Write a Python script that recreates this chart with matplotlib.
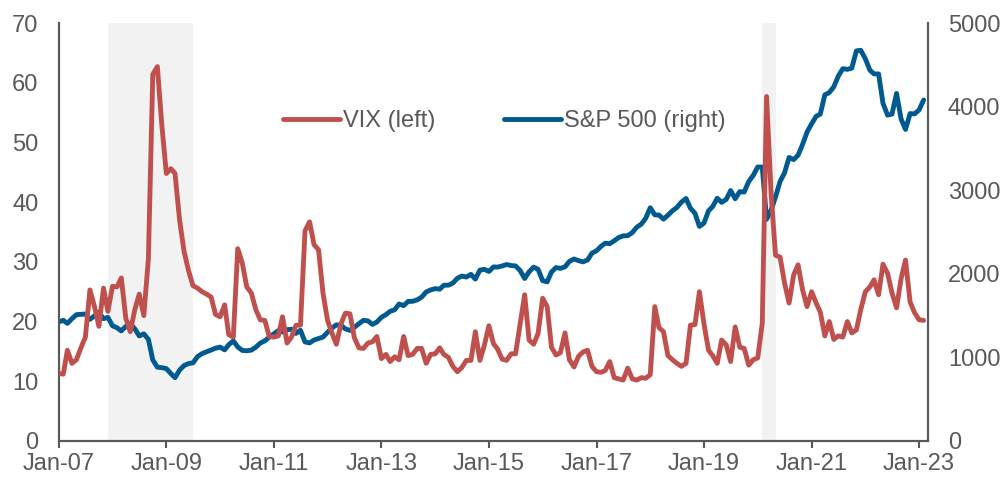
import numpy as np
import pandas as pd
import matplotlib
matplotlib.use("Agg")
import matplotlib.pyplot as plt
import matplotlib.dates as mdates

# monthly averages, Jan 2007 .. Feb 2023
vix = [
    11.3, 11.2, 15.2, 13.0, 13.6, 15.6, 17.4, 25.3, 22.5, 19.2, 25.6, 21.7,  # 2007
    25.9, 25.8, 27.3, 20.5, 18.3, 22.0, 24.6, 21.0, 30.5, 61.4, 62.7, 53.0,  # 2008
    44.8, 45.6, 44.8, 37.0, 31.8, 28.5, 26.0, 25.6, 25.0, 24.6, 24.1, 21.2,  # 2009
    20.8, 22.8, 17.8, 17.4, 32.2, 29.8, 25.8, 24.8, 22.0, 20.3, 20.2, 17.5,  # 2010
    17.4, 17.6, 20.8, 16.4, 17.4, 19.4, 19.4, 35.2, 36.7, 32.9, 32.0, 24.8,  # 2011
    20.2, 18.0, 16.2, 19.6, 21.4, 21.3, 17.3, 15.6, 15.5, 16.4, 16.6, 17.5,  # 2012
    13.8, 14.5, 13.3, 14.1, 13.6, 17.5, 14.3, 14.5, 15.5, 15.5, 13.0, 14.5,  # 2013
    14.6, 15.6, 14.5, 14.0, 12.5, 11.6, 12.3, 13.5, 13.5, 18.3, 13.5, 16.0,  # 2014
    19.3, 16.3, 15.4, 13.7, 13.5, 14.6, 14.6, 19.5, 24.5, 16.9, 16.2, 18.0,  # 2015
    23.9, 22.5, 15.7, 14.4, 14.8, 18.1, 13.6, 12.4, 14.2, 14.9, 15.2, 12.5,  # 2016
    11.6, 11.5, 11.8, 13.3, 10.6, 10.4, 10.2, 12.2, 10.4, 10.2, 10.6, 10.5,  # 2017
    11.1, 22.5, 19.0, 18.3, 14.3, 13.6, 13.0, 12.5, 13.0, 19.4, 19.5, 25.0,  # 2018
    19.6, 15.2, 14.3, 13.0, 16.9, 16.1, 13.3, 19.1, 15.7, 15.5, 12.7, 13.6,  # 2019
    13.9, 19.7, 57.7, 41.4, 31.1, 30.8, 26.5, 23.1, 27.8, 29.5, 25.3, 22.5,  # 2020
    25.0, 23.1, 21.6, 17.6, 20.0, 17.0, 17.6, 17.4, 20.0, 18.1, 18.6, 22.0,  # 2021
    25.0, 25.8, 27.0, 24.5, 29.6, 28.1, 24.8, 22.3, 27.2, 30.3, 23.3, 21.5,  # 2022
    20.3, 20.2,                                                              # 2023
]

spx = [
    1424, 1444, 1407, 1463, 1511, 1515, 1519, 1455, 1497, 1539, 1463, 1479,
    1379, 1354, 1317, 1371, 1403, 1341, 1257, 1281, 1217, 969, 883, 877,
    866, 806, 757, 848, 902, 926, 935, 1010, 1045, 1067, 1088, 1110,
    1123, 1090, 1152, 1197, 1125, 1083, 1079, 1087, 1122, 1171, 1198, 1242,
    1282, 1321, 1304, 1331, 1338, 1287, 1325, 1185, 1173, 1207, 1226, 1243,
    1300, 1352, 1389, 1386, 1341, 1323, 1359, 1403, 1443, 1437, 1394, 1423,
    1480, 1512, 1551, 1570, 1639, 1619, 1669, 1671, 1688, 1721, 1783, 1807,
    1822, 1817, 1863, 1864, 1889, 1947, 1973, 1961, 1993, 1937, 2044, 2054,
    2028, 2082, 2080, 2094, 2111, 2099, 2094, 2039, 1944, 2024, 2080, 2054,
    1918, 1904, 2022, 2075, 2065, 2083, 2149, 2177, 2158, 2143, 2165, 2247,
    2275, 2329, 2366, 2360, 2395, 2434, 2454, 2456, 2493, 2557, 2594, 2664,
    2790, 2705, 2703, 2654, 2701, 2754, 2794, 2858, 2901, 2785, 2723, 2567,
    2607, 2754, 2804, 2904, 2855, 2890, 2996, 2898, 2983, 2978, 3104, 3176,
    3278, 3277, 2652, 2762, 2920, 3105, 3207, 3392, 3366, 3419, 3549, 3695,
    3794, 3884, 3911, 4141, 4168, 4238, 4364, 4454, 4446, 4460, 4667, 4674,
    4573, 4436, 4392, 4391, 4040, 3898, 3911, 4158, 3851, 3727, 3917, 3913,
    3960, 4079,
]

months = pd.date_range("2007-01-01", periods=len(vix), freq="MS")
xticks = pd.date_range("2007-01-01", "2023-01-01", freq="24MS")

# recession periods (shaded)
recessions = [("2007-12-01", "2009-07-01"), ("2020-02-01", "2020-05-01")]

grey = "#595959"
red = "#C0504D"
blue = "#005A8F"

plt.rcParams['font.family'] = ['Liberation Sans', 'DejaVu Sans']
plt.rcParams['font.size'] = 17

fig = plt.figure(figsize=(10.02, 4.8), dpi=100)
ax = fig.add_axes([0.0586, 0.0813, 0.8673, 0.8707])
ax2 = ax.twinx()

# shading lives on the bottom axes so both lines sit above it
for start, end in recessions:
    ax2.axvspan(pd.Timestamp(start), pd.Timestamp(end), color="#F2F2F2", lw=0, zorder=0)

l2, = ax2.plot(months, spx, color=blue, lw=3.5, solid_joinstyle="round",
               solid_capstyle="round", label="S&P 500 (right)", zorder=3)
l1, = ax.plot(months, vix, color=red, lw=3.5, solid_joinstyle="round",
              solid_capstyle="round", label="VIX (left)", zorder=3)

ax.set_xlim(pd.Timestamp("2007-01-01"), pd.Timestamp("2023-03-01"))
ax.set_ylim(0, 70)
ax2.set_ylim(0, 5000)
ax.set_yticks(range(0, 71, 10))
ax2.set_yticks(range(0, 5001, 1000))

ax.set_xticks(xticks)
ax.xaxis.set_major_formatter(mdates.DateFormatter("%b-%y"))

for a in (ax, ax2):
    a.spines["top"].set_visible(False)
    for side in ("left", "right", "bottom"):
        a.spines[side].set_color(grey)
        a.spines[side].set_linewidth(1.5)
    a.tick_params(axis="y", length=0, pad=14.5, colors=grey, labelsize=17)
ax.tick_params(axis="x", length=5, width=1.5, color=grey, labelcolor=grey,
               labelsize=17, pad=4)

ax.set_zorder(ax2.get_zorder() + 1)
ax.patch.set_visible(False)

leg = ax.legend(handles=[l1, l2], loc="center", bbox_to_anchor=(0.513, 0.765),
                ncol=2, frameon=False, handlelength=2.4, handletextpad=0.15,
                columnspacing=2.9, fontsize=17)
for t in leg.get_texts():
    t.set_color(grey)

fig.savefig("out.png", dpi=100)
